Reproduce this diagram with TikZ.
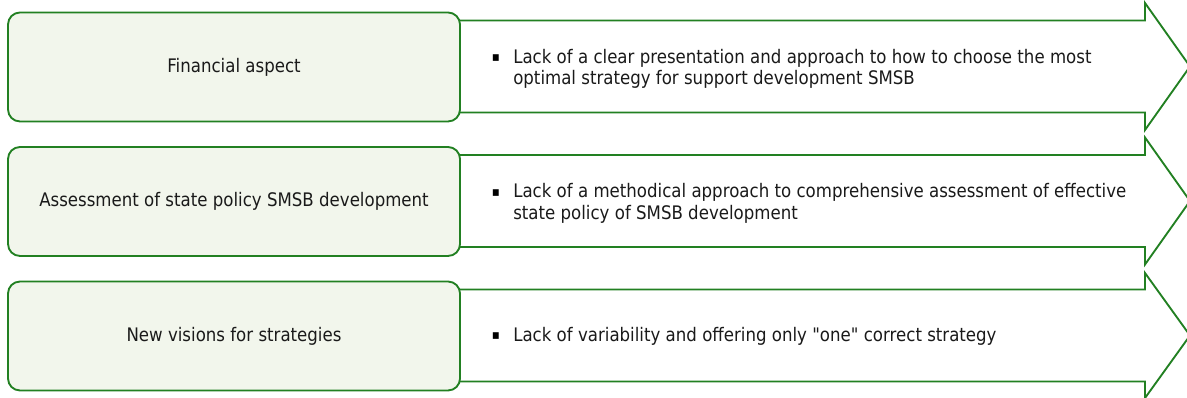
\documentclass[tikz,border=0pt]{standalone}
\usepackage{fontspec}
\setmainfont{DejaVu Sans}[FakeStretch=0.89, Ligatures=TeXOff]
\begin{document}
\begin{tikzpicture}[x=0.75pt,y=-0.75pt,font=\fontsize{14}{16.1}\selectfont]
\definecolor{edgegreen}{RGB}{34,128,34}
\definecolor{palegreen}{RGB}{242,246,236}
\definecolor{ink}{RGB}{26,26,26}
\tikzset{
  aspectbox/.style={draw=edgegreen, fill=palegreen, line width=1.4pt,
    rounded corners=9pt, minimum width=339pt, minimum height=81.75pt,
    text=ink, inner sep=0pt},
  bigarrow/.style={draw=edgegreen, fill=white, line width=1.4pt, line join=miter},
  bulletmark/.style={text=black, inner sep=0pt, font=\fontsize{10}{10}\selectfont},
  issue/.style={anchor=west, align=left, text=ink, inner sep=0pt}
}
\useasboundingbox (0,0) rectangle (1187,398);

% arrow shapes, one per row (centre lines at 66.5, 201, 335.5)
\foreach \c/\h in {66.5/63.5, 201/63.5, 335.5/62.5}{
  \draw[bigarrow] (440,\c-46) -- (1145,\c-46) -- (1145,\c-\h) -- (1190,\c)
    -- (1145,\c+\h) -- (1145,\c+46) -- (440,\c+46) -- cycle;
}

% left-hand rounded boxes
\node[aspectbox] (fin) at (234,67) {Financial aspect};
\node[aspectbox] (pol) at (234,201.5) {Assessment of state policy SMSB development};
\node[aspectbox] (vis) at (234,336) {New visions for strategies};

% bullet points inside the arrows
\node[bulletmark] (b1) at (496,58.5) {▪};
\node[issue] (t1) at (513,69) {Lack of a clear presentation and approach to how to choose the most\\optimal strategy for support development SMSB};
\node[bulletmark] (b2) at (496,193) {▪};
\node[issue] (t2) at (513,203.5) {Lack of a methodical approach to comprehensive assessment of effective\\state policy of SMSB development};
\node[bulletmark] (b3) at (496,336.5) {▪};
\node[issue] (t3) at (513,336.5) {Lack of variability and offering only "one" correct strategy};
\end{tikzpicture}
\end{document}
